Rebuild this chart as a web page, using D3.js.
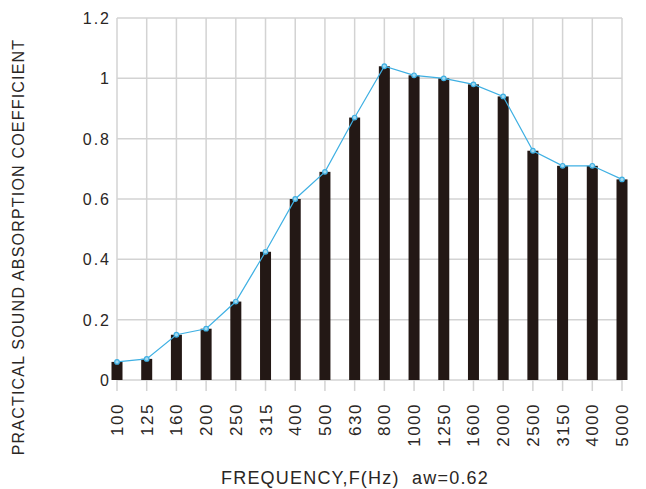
<!DOCTYPE html>
<html lang="en">
	<head>
		<meta charset="utf-8">
		<title>Sound Absorption</title>
		<script type="text/javascript" src="https://cdn.jsdelivr.net/npm/d3@7/dist/d3.min.js"></script>
		<style type="text/css">
			html, body { margin: 0; padding: 0; background-color: white; }
			text { font-family: "Liberation Sans", Arial, sans-serif; fill: #2a2624; }
		</style>
	</head>
	<body>
		<script type="text/javascript">

			var w = 646;
			var h = 489;

			// data
			var freqs = ["100", "125", "160", "200", "250", "315", "400", "500", "630", "800",
						 "1000", "1250", "1600", "2000", "2500", "3150", "4000", "5000"];
			var coeffs = [0.06, 0.07, 0.15, 0.17, 0.26, 0.425, 0.60, 0.69, 0.87, 1.04,
						  1.01, 1.00, 0.98, 0.94, 0.76, 0.71, 0.71, 0.665];
			var yTicks = [0, 0.2, 0.4, 0.6, 0.8, 1, 1.2];

			var padLeft = 117, padRight = 622, padTop = 18, padBottom = 380;
			var barWidth = 11;

			var svg = d3.select("body")
						.append("svg")
						.attr("width", w)
						.attr("height", h);

			var xScale = d3.scalePoint()
							.domain(freqs)
							.range([padLeft, padRight]);

			var yScale = d3.scaleLinear()
							.domain([0, 1.2])
							.range([padBottom, padTop]);

			//grid
			svg.append("g")
				.selectAll("line")
				.data(yTicks)
				.enter()
				.append("line")
				.attr("x1", padLeft)
				.attr("x2", padRight)
				.attr("y1", function(d) { return yScale(d); })
				.attr("y2", function(d) { return yScale(d); })
				.attr("stroke", "#d3d3d3")
				.attr("stroke-width", 1.5);

			svg.append("g")
				.selectAll("line")
				.data(freqs)
				.enter()
				.append("line")
				.attr("x1", function(d) { return xScale(d); })
				.attr("x2", function(d) { return xScale(d); })
				.attr("y1", padTop)
				.attr("y2", padBottom + 11)
				.attr("stroke", "#d3d3d3")
				.attr("stroke-width", 1.5);

			//bars
			svg.append("g")
				.selectAll("rect")
				.data(coeffs)
				.enter()
				.append("rect")
				.attr("x", function(d, i) { return xScale(freqs[i]) - barWidth / 2; })
				.attr("y", function(d) { return yScale(d); })
				.attr("width", barWidth)
				.attr("height", function(d) { return padBottom - yScale(d); })
				.attr("fill", "#231815");

			//line + markers
			var line = d3.line()
						.x(function(d, i) { return xScale(freqs[i]); })
						.y(function(d) { return yScale(d); });

			svg.append("path")
				.datum(coeffs)
				.attr("d", line)
				.attr("fill", "none")
				.attr("stroke", "#3fb0e3")
				.attr("stroke-width", 1.2);

			svg.append("g")
				.selectAll("circle")
				.data(coeffs)
				.enter()
				.append("circle")
				.attr("cx", function(d, i) { return xScale(freqs[i]); })
				.attr("cy", function(d) { return yScale(d); })
				.attr("r", 2.3)
				.attr("fill", "#9fd8f0")
				.attr("stroke", "#3fb0e3")
				.attr("stroke-width", 1.2);

			//y axis labels
			svg.append("g")
				.selectAll("text")
				.data(yTicks)
				.enter()
				.append("text")
				.text(function(d) { return d; })
				.attr("x", padLeft - 6)
				.attr("y", function(d) { return yScale(d) + 6; })
				.attr("text-anchor", "end")
				.attr("font-size", 16)
				.attr("letter-spacing", 2);

			//x axis labels
			svg.append("g")
				.selectAll("text")
				.data(freqs)
				.enter()
				.append("text")
				.text(function(d) { return d; })
				.attr("transform", function(d) {
					return "translate(" + (xScale(d) + 6) + "," + 403 + ") rotate(-90)";
				})
				.attr("text-anchor", "end")
				.attr("font-size", 17)
				.attr("letter-spacing", 1.5);

			//titles
			svg.append("text")
				.text("FREQUENCY,F(Hz)  aw=0.62")
				.attr("x", 355)
				.attr("y", 484)
				.attr("text-anchor", "middle")
				.attr("font-size", 18)
				.attr("letter-spacing", 1.2)
				.attr("xml:space", "preserve");

			svg.append("text")
				.text("PRACTICAL SOUND ABSORPTION COEFFICIENT")
				.attr("transform", "translate(24,247) rotate(-90)")
				.attr("text-anchor", "middle")
				.attr("font-size", 16)
				.attr("letter-spacing", 1.2);

		</script>
	</body>
</html>
